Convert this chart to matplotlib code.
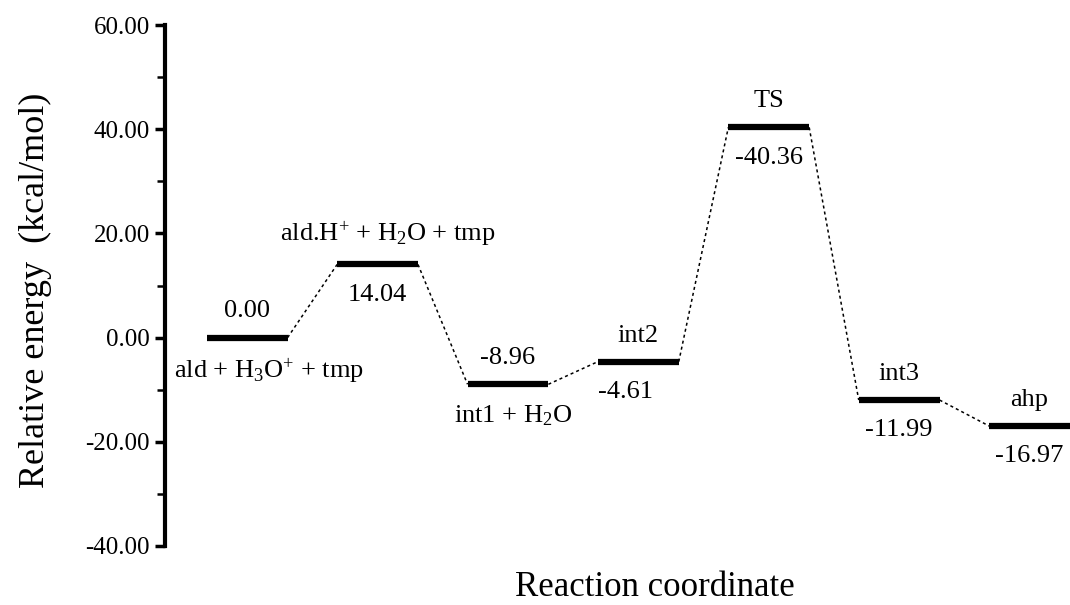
import matplotlib.pyplot as plt
from matplotlib.ticker import MultipleLocator, FormatStrFormatter

# ---------------------------------------------------------------------------------
# Data: relative energies of each species along the reaction path
# ---------------------------------------------------------------------------------
energies = [0.00, 14.04, -8.96, -4.61, 40.36, -11.99, -16.97]
top_labels = ['0.00', 'ald.H$^{+}$ + H$_2$O + tmp', '-8.96', 'int2', 'TS', 'int3', 'ahp']
bottom_labels = ['ald + H$_3$O$^{+}$ + tmp', '14.04', 'int1 + H$_2$O', '-4.61', '-40.36', '-11.99', '-16.97']

plt.rcParams['font.family'] = ['Liberation Serif', 'DejaVu Serif']
plt.rcParams['mathtext.fontset'] = 'custom'
plt.rcParams['mathtext.rm'] = 'Liberation Serif'
plt.rcParams['mathtext.it'] = 'Liberation Serif:italic'

fig = plt.figure(figsize=(10.7, 6.05), dpi=100)
ax = fig.add_axes([165 / 1070, 59 / 605, 905 / 1070, 521 / 605])

half = 0.31
for i, e in enumerate(energies):
    ax.plot([i - half, i + half], [e, e], color='black', lw=4.5, solid_capstyle='butt')
    if i < len(energies) - 1:
        ax.plot([i + half, i + 1 - half], [e, energies[i + 1]], color='black',
                lw=1.1, ls=(0, (2, 2)))

# small horizontal nudges for a few labels
top_shift = {1: 0.08}
bottom_shift = {0: 0.17, 2: 0.04, 3: -0.1}
for i, e in enumerate(energies):
    ax.text(i + top_shift.get(i, 0), e + 2.9, top_labels[i], ha='center', va='bottom',
            fontsize=19)
    ax.text(i + bottom_shift.get(i, 0), e - 3.7, bottom_labels[i], ha='center', va='top',
            fontsize=19)

ax.set_xlim(-0.63, 6.31)
ax.set_ylim(-40, 60)
ax.yaxis.set_major_locator(MultipleLocator(20))
ax.yaxis.set_minor_locator(MultipleLocator(10))
ax.yaxis.set_major_formatter(FormatStrFormatter('%.2f'))
ax.tick_params(axis='y', which='major', length=7, width=2.5, labelsize=18, pad=4)
ax.tick_params(axis='y', which='minor', length=6, width=1.8)
ax.set_xticks([])
for side in ['top', 'right', 'bottom']:
    ax.spines[side].set_visible(False)
ax.spines['left'].set_linewidth(3)

fig.text(35 / 1070, 1 - 290 / 605, 'Relative energy  (kcal/mol)', rotation=90,
         ha='center', va='center', fontsize=26)
fig.text(655 / 1070, 1 - 588 / 605, 'Reaction coordinate', ha='center', va='center',
         fontsize=25)

fig.savefig('out.png', dpi=100)
